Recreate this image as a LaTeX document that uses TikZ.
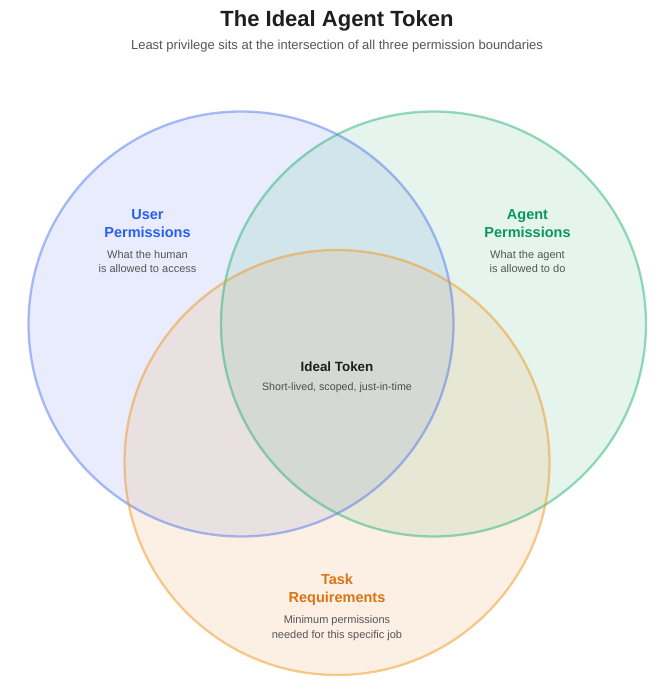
\documentclass[tikz,border=0pt]{standalone}
\usepackage{fontspec}
\setmainfont{Liberation Sans}
\definecolor{bluefill}{RGB}{80,105,238}
\definecolor{greenfill}{RGB}{47,180,113}
\definecolor{orangefill}{RGB}{238,138,38}
\definecolor{bluestroke}{RGB}{73,115,237}
\definecolor{greenstroke}{RGB}{31,177,113}
\definecolor{orangestroke}{RGB}{241,147,21}
\definecolor{bluetext}{RGB}{40,95,238}
\definecolor{greentext}{RGB}{10,150,95}
\definecolor{orangetext}{RGB}{217,117,20}
\definecolor{graytext}{RGB}{85,85,85}
\definecolor{darktext}{RGB}{30,30,30}
\tikzset{
  vennfill/.style={fill opacity=0.12},
  vennline/.style={line width=2.3pt, draw opacity=0.47},
  head/.style={font=\fontsize{14.5}{17}\selectfont\bfseries, anchor=base, inner sep=0pt},
  desc/.style={font=\fontsize{11}{13}\selectfont, text=graytext, anchor=base, inner sep=0pt},
}
\begin{document}
\begin{tikzpicture}[x=1pt,y=-1pt]
\useasboundingbox[fill=white] (0,0) rectangle (664,691);
\fill[bluefill, vennfill] (241,324) circle[radius=212.5];
\fill[greenfill, vennfill] (433.5,324) circle[radius=212.5];
\fill[orangefill, vennfill] (337,462.5) circle[radius=212.5];
\draw[bluestroke, vennline] (241,324) circle[radius=212.5];
\draw[greenstroke, vennline] (433.5,324) circle[radius=212.5];
\draw[orangestroke, vennline] (337,462.5) circle[radius=212.5];

\node[font=\fontsize{22}{26}\selectfont\bfseries, text=darktext, anchor=base, inner sep=0pt] (title) at (337,26) {The Ideal Agent Token};
\node[font=\fontsize{13}{15}\selectfont, text=graytext, anchor=base, inner sep=0pt] (subtitle) at (337,49.5) {Least privilege sits at the intersection of all three permission boundaries};

\node[head, text=bluetext] (u1) at (147.5,219.2) {User};
\node[head, text=bluetext] (u2) at (147.5,237.2) {Permissions};
\node[desc] (u3) at (147.5,258) {What the human};
\node[desc] (u4) at (147.5,272) {is allowed to access};

\node[head, text=greentext] (a1) at (527.5,219.2) {Agent};
\node[head, text=greentext] (a2) at (527.5,237.2) {Permissions};
\node[desc] (a3) at (527.5,258) {What the agent};
\node[desc] (a4) at (527.5,272) {is allowed to do};

\node[font=\fontsize{13.4}{16}\selectfont\bfseries, text=darktext, anchor=base, inner sep=0pt] (i1) at (337,371) {Ideal Token};
\node[font=\fontsize{10.7}{13}\selectfont, text=graytext!90!black, anchor=base, inner sep=0pt] (i2) at (337,390) {Short-lived, scoped, just-in-time};

\node[head, text=orangetext] (t1) at (337,584.2) {Task};
\node[head, text=orangetext] (t2) at (337,602.2) {Requirements};
\node[desc] (t3) at (337,623) {Minimum permissions};
\node[desc] (t4) at (337,638) {needed for this specific job};
\end{tikzpicture}
\end{document}
